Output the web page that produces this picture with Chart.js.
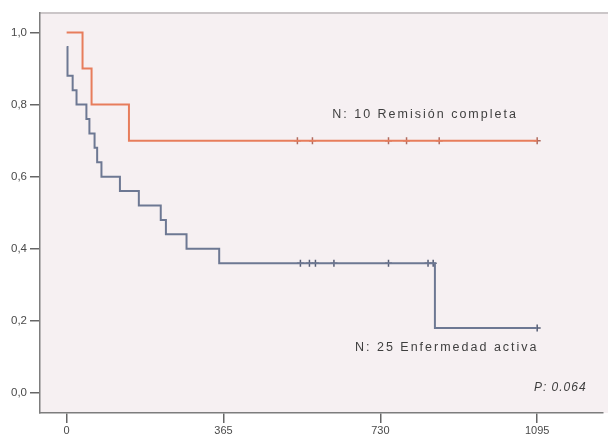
<!DOCTYPE html>
<html>
<head>
<meta charset="utf-8">
<script src="https://cdn.jsdelivr.net/npm/chart.js@4.4.1/dist/chart.umd.min.js"></script>
<style>
  html, body { margin: 0; padding: 0; background: #fff; }
  canvas { display: block; }
</style>
</head>
<body>
<canvas id="km" width="608" height="439"></canvas>
<script>
// Kaplan-Meier curves, time in days
const remTimes = [0, 37, 58, 145, 1095];
const remSurv = [1.0, 0.9, 0.8, 0.7, 0.7];
const remCensorTimes = [537, 572, 749, 791, 867, 1095];
const remCensorSurv = [0.7, 0.7, 0.7, 0.7, 0.7, 0.7];

const actTimes = [0, 2, 14, 23, 46, 53, 65, 71, 81, 124, 168, 219, 231, 279, 355, 857, 1095];
const actSurv = [0.96, 0.88, 0.84, 0.80, 0.76, 0.72, 0.68, 0.64, 0.60, 0.56, 0.52, 0.48, 0.44, 0.40, 0.36, 0.18, 0.18];
const actCensorTimes = [544, 565, 579, 622, 749, 841, 853, 1095];
const actCensorSurv = [0.36, 0.36, 0.36, 0.36, 0.36, 0.36, 0.36, 0.18];

const xTicks = [0, 365, 730, 1095];
const yTicks = [0, 0.2, 0.4, 0.6, 0.8, 1.0];

const remLabel = 'N: 10 Remisión completa';
const actLabel = 'N: 25 Enfermedad activa';
const pLabel = 'P: 0.064';

const pts = (xs, ys) => xs.map((t, i) => ({ x: t, y: ys[i] }));

const RED = '#e77d5c';
const BLUE = '#6d7893';
const FONT = '"Liberation Sans", Arial, sans-serif';

const bgPlugin = {
  id: 'bg',
  beforeDraw(chart) {
    const { ctx, chartArea: a } = chart;
    ctx.save();
    ctx.fillStyle = '#fff';
    ctx.fillRect(0, 0, chart.width, chart.height);
    ctx.fillStyle = '#f6f0f2';
    ctx.fillRect(a.left, a.top, chart.width - a.left, a.bottom - a.top);
    ctx.strokeStyle = '#cbc6c8';
    ctx.lineWidth = 2;
    ctx.beginPath();
    ctx.moveTo(a.left, a.top);
    ctx.lineTo(chart.width, a.top);
    ctx.stroke();
    ctx.restore();
  }
};

// group labels and p-value, placed through the scales
const notesPlugin = {
  id: 'notes',
  afterDatasetsDraw(chart) {
    const { ctx, scales: { x, y } } = chart;
    ctx.save();
    ctx.fillStyle = '#3f3f3f';
    ctx.textBaseline = 'middle';
    ctx.font = '12.5px ' + FONT;
    ctx.letterSpacing = '2px';
    ctx.textAlign = 'left';
    ctx.fillText(remLabel, x.getPixelForValue(618), y.getPixelForValue(0.771));
    ctx.fillText(actLabel, x.getPixelForValue(671), y.getPixelForValue(0.125));
    ctx.font = 'italic 12px ' + FONT;
    ctx.letterSpacing = '1px';
    ctx.textAlign = 'right';
    ctx.fillText(pLabel, x.getPixelForValue(1210), y.getPixelForValue(0.014));
    ctx.restore();
  }
};

new Chart(document.getElementById('km'), {
  type: 'line',
  data: {
    datasets: [
      { data: pts(remTimes, remSurv), borderColor: RED, borderWidth: 2, stepped: 'before', pointRadius: 0, fill: false },
      { data: pts(actTimes, actSurv), borderColor: BLUE, borderWidth: 2, stepped: 'before', pointRadius: 0, fill: false },
      { data: pts(remCensorTimes, remCensorSurv), showLine: false, pointStyle: 'cross', pointRadius: 3.5, borderColor: '#b06a5e', borderWidth: 1.5 },
      { data: pts(actCensorTimes, actCensorSurv), showLine: false, pointStyle: 'cross', pointRadius: 3.5, borderColor: '#555d75', borderWidth: 1.5 }
    ]
  },
  options: {
    responsive: false,
    animation: false,
    layout: { padding: { top: 13, left: 0, right: 0, bottom: 0 } },
    plugins: { legend: { display: false }, tooltip: { enabled: false } },
    scales: {
      x: {
        type: 'linear',
        min: -62,
        max: 1247,
        afterBuildTicks: s => { s.ticks = xTicks.map(v => ({ value: v })); },
        afterFit: s => { s.height = 26; },
        grid: { drawOnChartArea: false, tickLength: 10, tickColor: '#666', lineWidth: 1.5 },
        border: { color: '#7d7d7d', width: 1.5 },
        ticks: {
          color: '#4a4a4a', padding: 1, maxRotation: 0, autoSkip: false,
          font: { family: FONT, size: 11 },
          callback: v => String(v)
        }
      },
      y: {
        type: 'linear',
        min: -0.0555,
        max: 1.054,
        afterBuildTicks: s => { s.ticks = yTicks.map(v => ({ value: v })); },
        afterFit: s => { s.width = 40; },
        grid: { drawOnChartArea: false, tickLength: 10, tickColor: '#666', lineWidth: 1.5 },
        border: { color: '#7d7d7d', width: 1.5 },
        ticks: {
          color: '#4a4a4a', padding: 3,
          font: { family: FONT, size: 11.5 },
          callback: v => v.toFixed(1).replace('.', ',')
        }
      }
    }
  },
  plugins: [bgPlugin, notesPlugin]
});
</script>
</body>
</html>
